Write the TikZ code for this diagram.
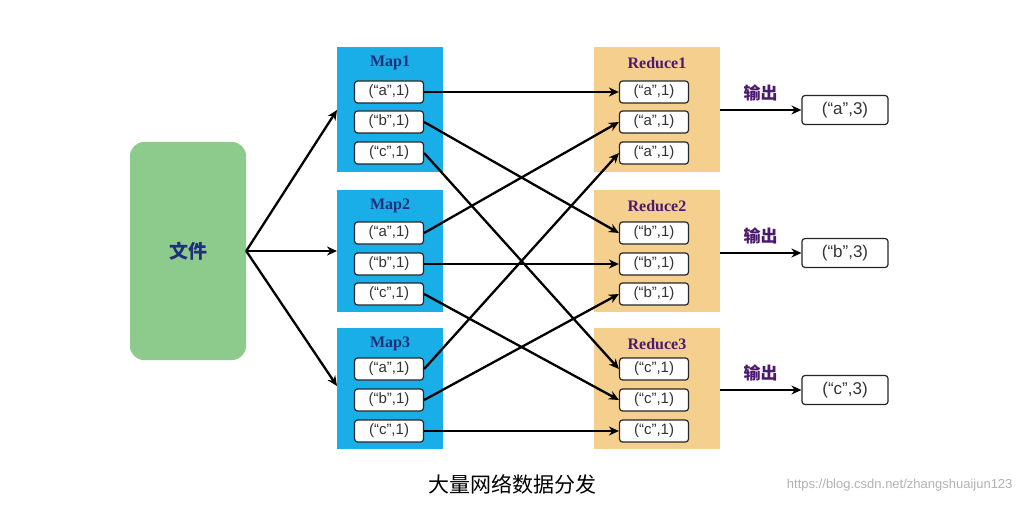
\documentclass[tikz,border=0pt]{standalone}
\usepackage{fontspec}
\setmainfont{Liberation Sans}
\newfontfamily\cjk{Noto Sans CJK SC}
\newfontfamily\serifb{Liberation Serif}
\usetikzlibrary{arrows.meta}
\definecolor{mapc}{HTML}{19AEE8}
\definecolor{redc}{HTML}{F5CF8D}
\definecolor{filec}{HTML}{8DCB8D}
\definecolor{navy}{HTML}{1F2F7A}
\definecolor{purp}{HTML}{4B1A6E}
\begin{document}
\begin{tikzpicture}[x=1pt,y=-1pt,
 item/.style={draw=black!85,line width=1.2pt,rounded corners=3pt,fill=white,minimum width=69pt,minimum height=22pt,inner sep=0pt,font=\fontsize{15}{15}\selectfont,text=black!80},
 outb/.style={item,minimum width=86pt,minimum height=29pt,font=\fontsize{17}{17}\selectfont},
 arr/.style={line width=2.3pt,-{Stealth[length=10pt,width=9pt]}},
 ttl/.style={font=\serifb\bfseries\fontsize{16}{16}\selectfont}]
\useasboundingbox (0,0) rectangle (1024,505);
\fill[white] (0,0) rectangle (1024,505);
\node[fill=filec,rounded corners=14pt,minimum width=116pt,minimum height=218pt] (file) at (188,251) {};
\node[font=\cjk\bfseries\fontsize{19}{19}\selectfont,text=navy] at (file) {文件};
\foreach \i/\ytop/\ybot/\ya/\yb/\yc in {1/47/172/92/122/153,2/190/312/233/264/294,3/328/449/369/400/431}{
 \fill[mapc] (337,\ytop) rectangle (443,\ybot);
 \node[ttl,text=navy] at (390,{\ytop+16}) {Map\i};
 \node[item] (m\i a) at (389,\ya) {(“a”,1)};
 \node[item] (m\i b) at (389,\yb) {(“b”,1)};
 \node[item] (m\i c) at (389,\yc) {(“c”,1)};
 \fill[redc] (594,\ytop) rectangle (720,\ybot);
 \node[ttl,text=purp] at (657,{\ytop+16}) {Reduce\i};
}
\node[item] (r1x1) at (654,92) {(“a”,1)};
\node[item] (r1x2) at (654,122) {(“a”,1)};
\node[item] (r1x3) at (654,153) {(“a”,1)};
\node[item] (r2x1) at (654,233) {(“b”,1)};
\node[item] (r2x2) at (654,264) {(“b”,1)};
\node[item] (r2x3) at (654,294) {(“b”,1)};
\node[item] (r3x1) at (654,369) {(“c”,1)};
\node[item] (r3x2) at (654,400) {(“c”,1)};
\node[item] (r3x3) at (654,431) {(“c”,1)};
\draw[arr] (file.east) -- (337,110);
\draw[arr] (file.east) -- (337,251);
\draw[arr] (file.east) -- (337,386);
\foreach \i in {1,2,3}{
 \draw[arr] (m\i a.east) -- (r1x\i.west);
 \draw[arr] (m\i b.east) -- (r2x\i.west);
 \draw[arr] (m\i c.east) -- (r3x\i.west);
}
\node[outb] (o1) at (845,110) {(“a”,3)};
\node[outb] (o2) at (845,253) {(“b”,3)};
\node[outb] (o3) at (845,390) {(“c”,3)};
\foreach \k in {1,2,3}{
 \draw[arr] (o\k.west -| 720,0) -- (o\k.west) node[midway,above=4pt,font=\cjk\bfseries\fontsize{17}{17}\selectfont,text=purp] {输出};
}
\node[font=\cjk\fontsize{21}{21}\selectfont] (title) at (512,484) {大量网络数据分发};
\node[font=\fontsize{13}{13}\selectfont,text=black!30,anchor=east] (wm) at (1016,485) {https://blog.csdn.net/zhangshuaijun123};
\end{tikzpicture}
\end{document}
